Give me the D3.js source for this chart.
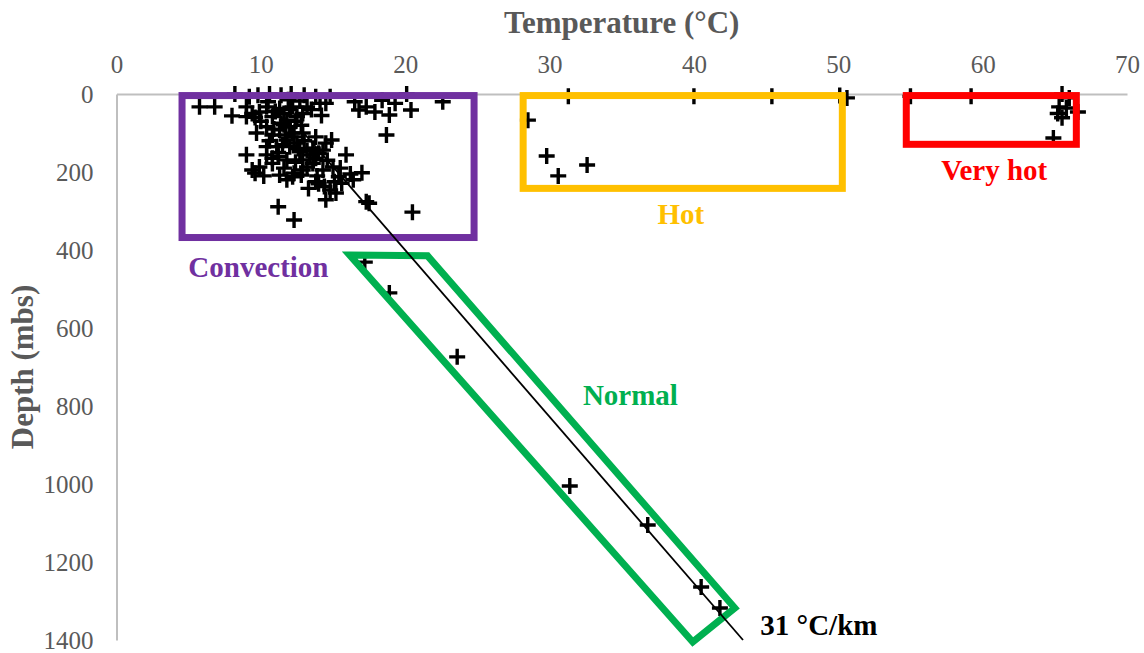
<!DOCTYPE html>
<html>
<head>
<meta charset="utf-8">
<script src="https://cdn.jsdelivr.net/npm/d3@7"></script>
<style>
body { margin: 0; background: #fff; }
svg { display: block; font-family: "Liberation Serif", "Times New Roman", serif; }
</style>
</head>
<body>
<div id="wrapper"></div>
<script>
var W = 1144, H = 653;

// axis ticks
var xTicks = [0, 10, 20, 30, 40, 50, 60, 70];
var yTicks = [0, 200, 400, 600, 800, 1000, 1200, 1400];

// [temperature °C, depth mbs]
var convectionPts = [[5.75,33],[6.8,33],[8.0,56],[9.7,100],[18.7,105],[20.4,41],[22.6,20],[18.9,54],[16.8,41],[17.9,46],
  [9.0,156],[15.9,156],[9.6,203],[11.2,289],[12.3,323],[20.5,303],[17.3,276],[17.5,280],[14.5,271],[13.3,242],
  [17.0,202],[15.1,225],[15.6,229],[14.8,246],[11.3,208],[12.2,212],[12.8,208],[10.4,156],[11.2,160],[11.8,169],
  [13.4,156],[14.0,152],[12.7,148],[10.8,178],[13.6,178],[14.5,126],[14.9,118],[13.8,110],[11.8,118],[12.5,126],
  [10.4,135],[12.9,100],[11.3,92],[10.4,84],[11.8,67],[10.8,58],[9.4,50],[9.0,58],[10.4,33],[11.3,37],
  [12.2,33],[13.2,33],[9.2,7],[9.8,3],[10.6,0],[11.4,3],[12.1,0],[13.0,3],[13.8,7],[14.8,7],
  [8.2,0],[20.1,0],[14.1,24],[14.5,24],[9.0,33],[15.4,212],[16.4,220],[14.3,195],[15.0,187],[13.2,187],
  [12.0,135],[11.1,135],[9.4,195],[9.9,187],[12.2,100],[10.8,105],[11.6,79],[12.5,58],[12.9,50],[9.9,46],
  [13.6,139],[14.3,144],[12.9,169],[12.3,203],[11.8,220],[13.8,225],[14.4,237],[15.2,254],[16.5,20],[17.3,33],
  [18.4,16],[19.3,24],[11.0,45],[11.6,50],[12.0,40],[12.4,70],[11.4,75],[10.9,90],[12.0,85],[12.8,80],
  [11.7,105],[12.3,110],[13.0,120],[11.5,130],[12.6,140],[13.2,145],[10.6,120],[10.0,70],[9.6,60],[10.5,20],
  [11.9,15],[12.7,18],[13.5,40],[14.2,55],[11.2,150],[10.8,165],[12.4,175],[13.8,165],[14.6,170],[11.6,190],
  [12.9,195],[10.2,210],[13.9,210],[15.5,190],[16.2,205],[14.0,230]];
var hotPts = [[28.5,67],[29.8,159],[30.6,210],[32.6,182],[31.3,6],[40.0,6],[45.4,6],[50.1,4],[50.6,10]];
var veryHotPts = [[55.0,6],[59.2,6],[65.5,0],[66.0,10],[65.3,33],[65.8,36],[66.6,46],[65.2,50],[65.5,61],[64.9,113]];
var normalPts = [[17.2,431],[18.9,510],[23.6,674],[31.4,1005],[36.8,1105],[40.5,1264],[41.8,1318]];

// zone boxes [t0, d0, t1, d1] and the normal band outline
var zoneNames = ["Convection", "Hot", "Very hot"];
var zoneBoxes = [[4.54,4,24.77,368],[28.17,4,50.28,242],[54.71,4,66.49,129]];
var zoneColors = ["#7030A0", "#FFC000", "#FF0000"];
var zoneLabelPos = [[9.83,469],[39.1,333],[60.8,220]];
var normalBand = [[16.15,413],[21.55,415],[42.83,1318],[39.92,1405]];
var gradientLine = [[12.9,97],[43.4,1400]];

var x = d3.scaleLinear().domain([0, 70]).range([116.5, 1127]);
var y = d3.scaleLinear().domain([0, 1400]).range([94, 640]);

var svg = d3.select("#wrapper")
    .append("svg")
    .attr("width", W)
    .attr("height", H);

// axes
var xAxis = svg.append("g")
    .attr("transform", "translate(0," + y(0) + ")")
    .call(d3.axisTop(x).tickValues(xTicks).tickFormat(d3.format("d")).tickSize(0).tickSizeOuter(0).tickPadding(21));
var yAxis = svg.append("g")
    .attr("transform", "translate(" + x(0) + ",0)")
    .call(d3.axisLeft(y).tickValues(yTicks).tickFormat(d3.format("d")).tickSize(0).tickSizeOuter(0).tickPadding(23));

[xAxis, yAxis].forEach(function(a) {
  a.attr("font-family", "Liberation Serif").attr("font-size", 25);
  a.select(".domain").attr("stroke", "#BFBFBF").attr("stroke-width", 2);
  a.selectAll("text").attr("fill", "#595959");
});

svg.append("text")
    .attr("x", (x(0) + x(70)) / 2)
    .attr("y", 33)
    .attr("text-anchor", "middle")
    .style("font-size", "31px")
    .style("font-weight", "bold")
    .attr("fill", "#595959")
    .text("Temperature (°C)");

svg.append("text")
    .attr("transform", "translate(33," + (y(0) + y(1400)) / 2 + ") rotate(-90)")
    .attr("text-anchor", "middle")
    .style("font-size", "31px")
    .style("font-weight", "bold")
    .attr("fill", "#595959")
    .text("Depth (mbs)");

// points as plus markers
var allPts = convectionPts.concat(hotPts, veryHotPts, normalPts);
svg.selectAll("path.pt")
    .data(allPts)
    .enter()
    .append("path")
    .attr("class", "pt")
    .attr("transform", function(d) { return "translate(" + x(d[0]) + "," + y(d[1]) + ")"; })
    .attr("d", "M-8,0H8M0,-8V8")
    .attr("stroke", "#000")
    .attr("stroke-width", 3.4)
    .attr("fill", "none");

// zone boxes
svg.selectAll("rect.zone")
    .data(zoneBoxes)
    .enter()
    .append("rect")
    .attr("class", "zone")
    .attr("x", function(d) { return x(d[0]); })
    .attr("y", function(d) { return y(d[1]); })
    .attr("width", function(d) { return x(d[2]) - x(d[0]); })
    .attr("height", function(d) { return y(d[3]) - y(d[1]); })
    .attr("fill", "none")
    .attr("stroke", function(d, i) { return zoneColors[i]; })
    .attr("stroke-width", 7);

var line = d3.line()
    .x(function(d) { return x(d[0]); })
    .y(function(d) { return y(d[1]); });

svg.append("path")
    .attr("d", line(normalBand) + "Z")
    .attr("fill", "none")
    .attr("stroke", "#00B050")
    .attr("stroke-width", 7)
    .attr("stroke-linejoin", "miter");

svg.append("path")
    .attr("d", line(gradientLine))
    .attr("fill", "none")
    .attr("stroke", "#000")
    .attr("stroke-width", 1.8);

// labels
svg.selectAll("text.zone")
    .data(zoneNames)
    .enter()
    .append("text")
    .attr("class", "zone")
    .attr("x", function(d, i) { return x(zoneLabelPos[i][0]); })
    .attr("y", function(d, i) { return y(zoneLabelPos[i][1]); })
    .attr("text-anchor", "middle")
    .style("font-size", "29px")
    .style("font-weight", "bold")
    .attr("fill", function(d, i) { return zoneColors[i]; })
    .text(function(d) { return d; });

svg.append("text")
    .attr("x", x(35.6))
    .attr("y", y(798))
    .attr("text-anchor", "middle")
    .style("font-size", "29px")
    .style("font-weight", "bold")
    .attr("fill", "#00B050")
    .text("Normal");

svg.append("text")
    .attr("x", x(44.6))
    .attr("y", y(1386))
    .style("font-size", "29px")
    .style("font-weight", "bold")
    .attr("fill", "#000")
    .text("31 °C/km");
</script>
</body>
</html>
